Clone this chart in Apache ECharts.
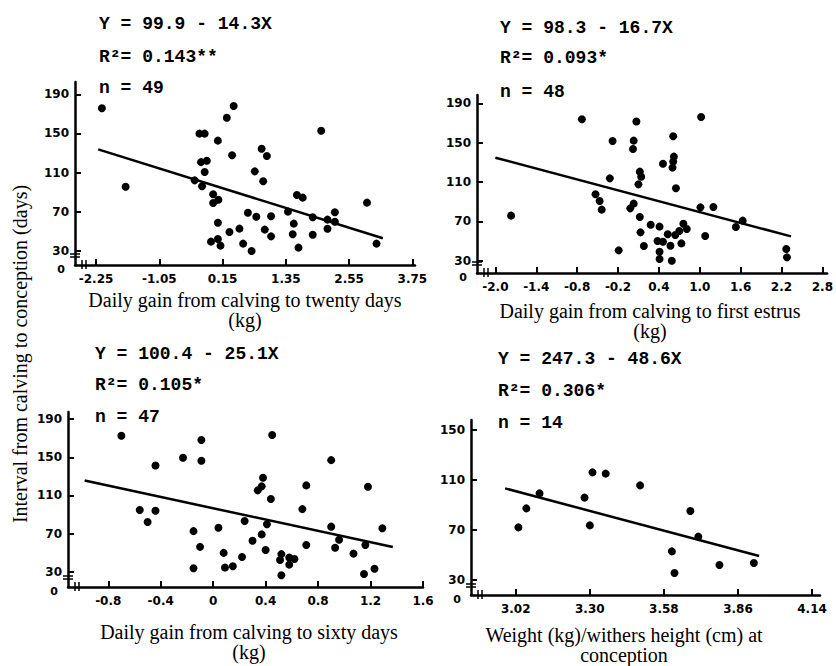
<!DOCTYPE html>
<html>
<head>
<meta charset="utf-8">
<script src="https://cdn.jsdelivr.net/npm/echarts@6/dist/echarts.min.js"></script>
<style>html,body{margin:0;padding:0;background:#fff}#c{width:836px;height:666px}</style>
</head>
<body>
<div id="c"></div>
<script>
// Panel 1: daily gain calving to twenty days
const twentyGain = [-2.14,-1.69,-0.29,-0.19,0.23,0.36,0.06,0.33,-0.26,-0.15,-0.19,-0.38,-0.24,-0.03,0.07,-0.03,0.06,-0.07,0.06,0.11,0.28,0.47,0.54,0.70,0.63,0.79,0.89,0.99,0.76,0.92,1.07,0.95,1.07,1.39,1.50,1.48,1.59,1.56,1.67,2.02,1.86,1.86,2.14,2.28,2.28,2.14,2.89,3.07];
const twentyDays = [175.7,95.5,149.8,149.8,166,178,142.6,127.6,120.6,122.1,110.5,102,95.9,87.7,82.2,78.8,58.7,39.3,42,35.2,49.2,52.6,37.3,29.8,68.9,64.8,134.4,126.9,111.2,101,65.2,51.6,44.7,70,57.7,46.8,33.2,87,84.3,152.8,64.2,46.4,61.8,69.3,59.7,52.5,79.2,37.3];
const twentyFitX = [-2.21, 3.19];
const twentyFitY = [133.7, 42.7];
const twentyTicks = [-2.25,-1.05,0.15,1.35,2.55,3.75];

// Panel 2: daily gain calving to first estrus
const estrusGain = [-1.77,-0.73,-0.28,0.07,0.03,0.02,-0.32,-0.53,-0.47,-0.44,0.12,0.14,0.10,-0.02,0.03,0.12,0.13,0.18,-0.19,0.28,0.41,0.38,0.46,0.53,0.57,0.41,0.41,0.59,0.46,0.61,0.62,0.61,0.60,0.65,0.64,0.70,0.76,0.81,0.73,1.02,1.01,1.20,1.08,1.53,1.63,2.27,2.28];
const estrusDays = [75.8,173.7,151.7,171.4,152,143.6,113.7,97.5,90.7,81.9,120.5,115.4,107.6,83.2,88,74.4,58.8,44.9,40.5,66.6,64.6,50,49.3,56.8,45.2,39.1,31.7,30,128.6,156.4,135.8,130.7,124.6,103.6,56.1,60.2,67.6,62.2,47.6,176.1,84.2,84.6,55.1,64.2,70.7,41.9,33.4];
const estrusFitX = [-2.0, 2.34];
const estrusFitY = [134.7, 54.7];
const estrusTicks = [-2.0,-1.4,-0.8,-0.2,0.4,1.0,1.6,2.2,2.8];

// Panel 3: daily gain calving to sixty days
const sixtyGain = [-0.70,-0.44,-0.56,-0.44,-0.50,-0.23,-0.09,-0.09,-0.15,-0.10,-0.15,0.04,0.08,0.09,0.15,0.22,0.24,0.30,0.37,0.40,0.41,0.34,0.37,0.38,0.44,0.45,0.52,0.51,0.58,0.62,0.58,0.52,0.68,0.71,0.71,0.90,0.90,0.96,0.93,1.07,1.18,1.16,1.15,1.23,1.29];
const sixtyDays = [172.7,141.4,94.7,94,82.2,149.6,168.2,146.5,72.6,56.1,33.7,76.1,49.8,34.4,35.8,45.4,83.3,62.6,69.2,52.9,79.8,115.4,119.6,128.6,106.4,173.4,48.5,42.3,45,43.3,37.5,26.3,95.7,120.6,58.1,147.1,77.3,63.5,55.2,49,119.2,58.1,27.6,33.1,75.7];
const sixtyFitX = [-0.98, 1.37];
const sixtyFitY = [125.7, 55.9];
const sixtyTicks = [-0.8,-0.4,0,0.4,0.8,1.2,1.6];

// Panel 4: weight / withers height at conception
const ratioWH = [3.03,3.06,3.11,3.28,3.31,3.36,3.30,3.49,3.68,3.71,3.61,3.62,3.79,3.92];
const ratioDays = [72.1,87.3,99.3,95.9,116.1,115.1,73.7,105.7,85.2,64.7,52.9,35.6,42,43.6];
const ratioFitX = [2.98, 3.94];
const ratioFitY = [103.3, 49.2];
const ratioTicks = [3.02,3.30,3.58,3.86,4.14];

const dayTicks = [30,70,110,150,190];
const dayTicks4 = [30,70,110,150];

const equations = [
  ['Y = 99.9 - 14.3X', 'R\u00b2= 0.143**', 'n = 49'],
  ['Y = 98.3 - 16.7X', 'R\u00b2= 0.093*', 'n = 48'],
  ['Y = 100.4 - 25.1X', 'R\u00b2= 0.105*', 'n = 47'],
  ['Y = 247.3 - 48.6X', 'R\u00b2= 0.306*', 'n = 14']
];
const xTitles = [
  'Daily gain from calving to twenty days\n(kg)',
  'Daily gain from calving to first estrus\n(kg)',
  'Daily gain from calving to sixty days\n(kg)',
  'Weight (kg)/withers height (cm) at\nconception'
];
const yTitle = 'Interval from calving to conception (days)';

const grids = [
  {left: 75, top: 82, width: 340, height: 183},
  {left: 477, top: 95, width: 356, height: 178},
  {left: 68, top: 412, width: 355, height: 175},
  {left: 471, top: 420, width: 349, height: 175}
];
const xRanges = [[-2.65, 3.8], [-2.27, 2.87], [-1.107, 1.6], [2.851, 4.17]];
const yRanges = [[15.4, 202.6], [17.5, 198.4], [14, 197.6], [18, 158]];

const labelStyle = {color: '#000', fontFamily: 'DejaVu Sans', fontWeight: 'bold', fontSize: 12};

function xAxis(i, ticks, fmt) {
  return {
    type: 'value', gridIndex: i, min: xRanges[i][0], max: xRanges[i][1],
    splitLine: {show: false},
    axisLine: {onZero: false, lineStyle: {color: '#000', width: 2.5}},
    axisTick: {show: true, inside: true, length: 6, customValues: ticks, lineStyle: {color: '#000', width: 2}},
    axisLabel: Object.assign({customValues: ticks, formatter: fmt, margin: 8}, labelStyle)
  };
}
function yAxis(i, ticks) {
  const vals = [yRanges[i][0]].concat(ticks);
  return {
    type: 'value', gridIndex: i, min: yRanges[i][0], max: yRanges[i][1],
    splitLine: {show: false},
    axisLine: {onZero: false, lineStyle: {color: '#000', width: 2.5}},
    axisTick: {show: true, inside: true, length: 6, customValues: ticks, lineStyle: {color: '#000', width: 2}},
    axisLabel: Object.assign({customValues: vals, margin: 6,
      formatter: v => (v < 25 ? '{z|0}' : String(Math.round(v))),
      rich: {z: {fontFamily: 'DejaVu Sans', fontSize: 11, color: '#000', padding: [8, 4, 0, 0]}}}, labelStyle)
  };
}
function zip(a, b) { return a.map((v, k) => [v, b[k]]); }

const panels = [
  [twentyGain, twentyDays, twentyFitX, twentyFitY],
  [estrusGain, estrusDays, estrusFitX, estrusFitY],
  [sixtyGain, sixtyDays, sixtyFitX, sixtyFitY],
  [ratioWH, ratioDays, ratioFitX, ratioFitY]
];
const series = [];
panels.forEach((p, i) => {
  series.push({type: 'scatter', xAxisIndex: i, yAxisIndex: i, data: zip(p[0], p[1]),
    symbolSize: 8, itemStyle: {color: '#000', opacity: 1}});
  series.push({type: 'line', xAxisIndex: i, yAxisIndex: i, data: zip(p[2], p[3]),
    symbol: 'none', lineStyle: {color: '#000', width: 2.5}});
});

// text annotations
const eqPos = [[99, [24, 57, 88]], [500, [28, 58, 92]], [95, [354, 385, 417]], [498, [359, 391, 423]]];
const graphic = [];
equations.forEach((lines, i) => {
  lines.forEach((t, k) => {
    graphic.push({type: 'text', style: {text: t, x: eqPos[i][0], y: eqPos[i][1][k],
      font: 'bold 18px "Liberation Mono"', fill: '#000', textVerticalAlign: 'middle'}});
  });
});
const titlePos = [[245, 300], [650, 311], [249, 632], [624, 635]];
xTitles.forEach((t, i) => {
  graphic.push({type: 'text', style: {text: t, x: titlePos[i][0], y: titlePos[i][1] - 10,
    font: '20px "Liberation Serif"', fill: '#000', textAlign: 'center', textVerticalAlign: 'top', lineHeight: 20}});
});
graphic.push({type: 'text', rotation: Math.PI / 2, x: 20, y: 354,
  style: {text: yTitle, x: 0, y: 0, font: '20px "Liberation Serif"', fill: '#000', textAlign: 'center', textVerticalAlign: 'middle'}});
// axis break marks
grids.forEach(g => {
  const L = g.left, B = g.top + g.height;
  graphic.push({type: 'line', shape: {x1: L - 5, y1: B - 11, x2: L + 5, y2: B - 11}, style: {stroke: '#000', lineWidth: 1.5}});
  graphic.push({type: 'line', shape: {x1: L - 5, y1: B - 8, x2: L + 5, y2: B - 8}, style: {stroke: '#000', lineWidth: 1.5}});
  graphic.push({type: 'line', shape: {x1: L + 7, y1: B - 5, x2: L + 7, y2: B + 4}, style: {stroke: '#000', lineWidth: 1.5}});
  graphic.push({type: 'line', shape: {x1: L + 11, y1: B - 5, x2: L + 11, y2: B + 4}, style: {stroke: '#000', lineWidth: 1.5}});
});

const option = {
  animation: false,
  backgroundColor: '#fff',
  grid: grids,
  xAxis: [
    xAxis(0, twentyTicks, v => v.toFixed(2)),
    xAxis(1, estrusTicks, v => v.toFixed(1)),
    xAxis(2, sixtyTicks, v => (Math.abs(v) < 1e-9 ? '0' : v.toFixed(1))),
    xAxis(3, ratioTicks, v => v.toFixed(2))
  ],
  yAxis: [yAxis(0, dayTicks), yAxis(1, dayTicks), yAxis(2, dayTicks), yAxis(3, dayTicks4)],
  series: series,
  graphic: graphic
};
const chart = echarts.init(document.getElementById('c'), null, {renderer: 'svg'});
chart.setOption(option);
</script>
</body>
</html>
